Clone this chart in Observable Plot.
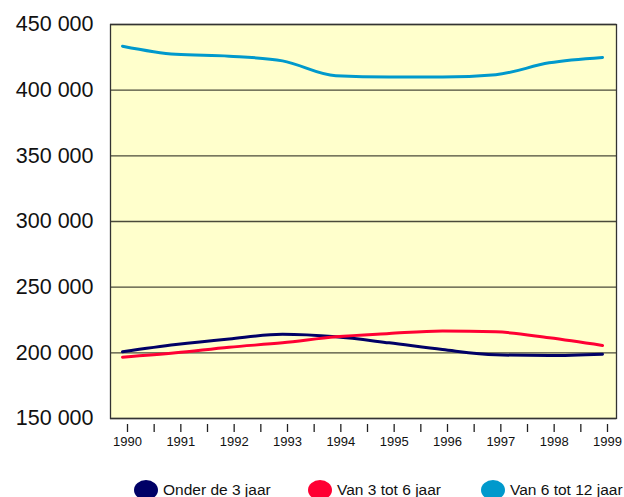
<!DOCTYPE html>
<html>
<head>
<meta charset="utf-8">
<script src="https://cdn.jsdelivr.net/npm/d3@7"></script>
<script src="https://cdn.jsdelivr.net/npm/@observablehq/plot@0.6"></script>
<style>
  html, body { margin: 0; padding: 0; background: #ffffff; overflow: hidden; }
  #wrap { position: relative; width: 624px; height: 497px; font-family: "Liberation Sans", Arial, sans-serif; }
  .leg { position: absolute; top: 480px; display: flex; align-items: center; font-size: 15.5px; color: #111; white-space: nowrap; }
  .sw { width: 24px; height: 20px; border-radius: 50%; margin-right: 5px; }
</style>
</head>
<body>
<div id="wrap"></div>
<script>
const years = [1990, 1991, 1992, 1993, 1994, 1995, 1996, 1997, 1998, 1999];
const onder3 = [200800, 206300, 210600, 214100, 212200, 207600, 202500, 198500, 197900, 198900];
const van3tot6 = [196700, 200000, 204300, 207600, 212200, 214700, 216700, 216000, 211400, 205600];
const van6tot12 = [433500, 427300, 425900, 422300, 411000, 410100, 410100, 411800, 420800, 424900];
const seriesNames = ["Onder de 3 jaar", "Van 3 tot 6 jaar", "Van 6 tot 12 jaar"];
const seriesColors = ["#000066", "#ff0033", "#0099cc"];
const yTicks = [150000, 200000, 250000, 300000, 350000, 400000, 450000];
const xTicks = d3.range(1990, 1999.01, 0.5);

const allSeries = [onder3, van3tot6, van6tot12];
const rows = [];
allSeries.forEach((vals, i) => vals.forEach((v, j) => rows.push({year: years[j], value: v, series: seriesNames[i]})));

const fmt = d => d3.format(",")(d).replace(/,/g, " ");

const chart = Plot.plot({
  width: 624,
  height: 470,
  marginLeft: 110,
  marginRight: 8,
  marginTop: 24,
  marginBottom: 52,
  style: {fontFamily: "'Liberation Sans', Arial, sans-serif", background: "transparent", color: "#111"},
  x: {domain: [1990, 1999], range: [122, 602], label: null},
  y: {domain: [150000, 450000], label: null},
  color: {domain: seriesNames, range: seriesColors},
  marks: [
    Plot.frame({fill: "#ffffcc"}),
    Plot.ruleY(yTicks, {stroke: "#4a4a3a", strokeWidth: 1.3}),
    Plot.line(rows, {x: "year", y: "value", z: "series", stroke: "series", strokeWidth: 3, curve: "monotone-x"}),
    Plot.frame({stroke: "#333", strokeWidth: 1.3}),
    Plot.axisY({ticks: yTicks, tickFormat: fmt, tickSize: 0, tickPadding: 17, fontSize: 21.5, fill: "#111", label: null}),
    Plot.axisX({ticks: xTicks, tickFormat: d => Number.isInteger(d) ? String(d) : "", tickSize: 8, tickPadding: 4, dx: 5, dy: 6, fontSize: 13, fontFamily: "'Liberation Sans Narrow', 'Liberation Sans', sans-serif", stroke: "#222", strokeWidth: 1.3, fill: "#111", label: null})
  ]
});

const wrap = document.getElementById("wrap");
wrap.appendChild(chart);

const legX = [134, 308, 481];
seriesNames.forEach((name, i) => {
  const d = document.createElement("div");
  d.className = "leg";
  d.style.left = legX[i] + "px";
  const sw = document.createElement("div");
  sw.className = "sw";
  sw.style.background = seriesColors[i];
  d.appendChild(sw);
  const t = document.createElement("span");
  t.textContent = name;
  d.appendChild(t);
  wrap.appendChild(d);
});
</script>
</body>
</html>
